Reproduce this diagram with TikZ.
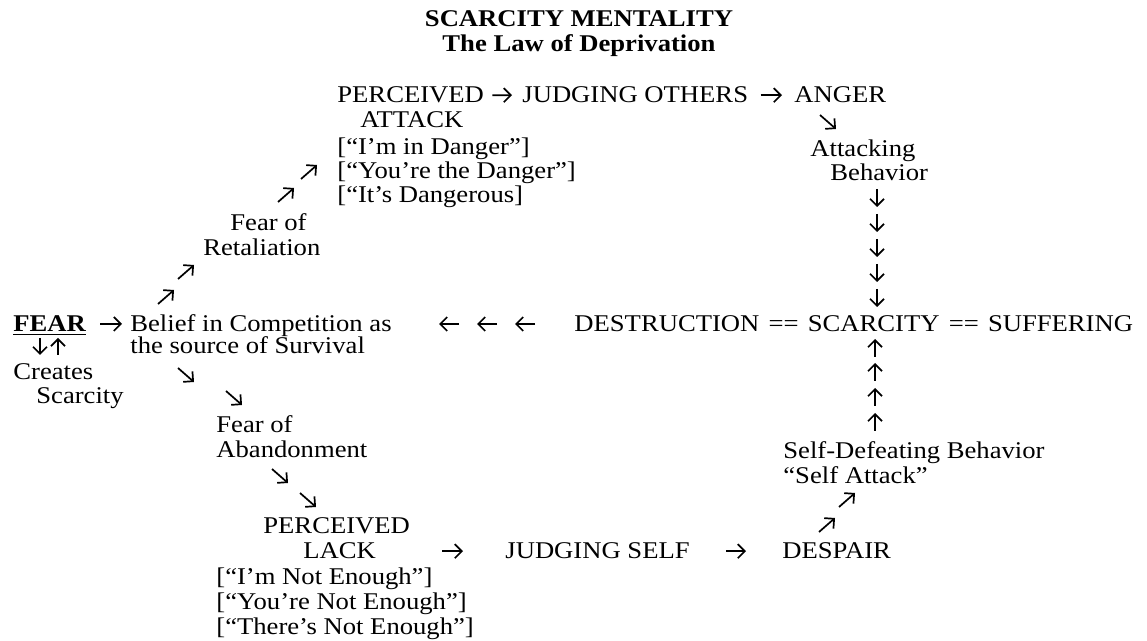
\documentclass[tikz,border=0pt]{standalone}
\usepackage{fontspec}
\setmainfont{Liberation Serif}[FakeStretch=1.11]
\usetikzlibrary{arrows.meta}

\tikzset{
    txt/.style={anchor=base west, inner sep=0pt, font=\fontsize{12}{14}\selectfont},
    arr/.style={-{Straight Barb[length=3.5pt,width=7pt]}, line width=0.85pt},
}

\begin{document}
\begin{tikzpicture}[x=0.5pt,y=-0.5pt]
    \useasboundingbox (0,0) rectangle (1147,641);

    % title
    \node [txt, anchor=base, font=\fontsize{12}{14}\selectfont\bfseries] (title) at (579,27) {SCARCITY MENTALITY};
    \node [txt, anchor=base, font=\fontsize{12}{14}\selectfont\bfseries] (subtitle) at (579,52) {The Law of Deprivation};

    % upper branch
    \node [txt] (percatt) at (337,103) {PERCEIVED};
    \node [txt] (attack)  at (360,128) {ATTACK};
    \node [txt] (danger1) at (337,155) {[“I’m in Danger”]};
    \node [txt] (danger2) at (337,179) {[“You’re the Danger”]};
    \node [txt] (danger3) at (337,203) {[“It’s Dangerous]};
    \node [txt] (judoth)  at (522,103) {JUDGING OTHERS};
    \node [txt] (anger)   at (794,103) {ANGER};
    \node [txt] (attbeh1) at (810,157) {Attacking};
    \node [txt] (attbeh2) at (830,181) {Behavior};
    \node [txt] (retal1)  at (230,231) {Fear of};
    \node [txt] (retal2)  at (203,256) {Retaliation};

    \draw [arr, shorten <=4pt, shorten >=5pt] (percatt.east) -- (judoth.west);
    \draw [arr, shorten <=6pt, shorten >=6pt] (judoth.east) -- (anger.west);

    % middle row
    \node [txt, font=\fontsize{12}{14}\selectfont\bfseries] (fear) at (13,332) {\underline{FEAR}};
    \node [txt] (belief1) at (130,332) {Belief in Competition as};
    \node [txt] (belief2) at (130,354) {the source of Survival};
    \node [txt] (creates) at (13,380) {Creates};
    \node [txt] (scarce)  at (36,404) {Scarcity};
    \node [txt] (dss)     at (574,332) {\spaceskip=4.6pt DESTRUCTION == SCARCITY == SUFFERING};

    \draw [arr] (100,324) -- (122,324);
    \foreach \x in {449,487,525}
        \draw [arr] ({\x+10},324) -- ({\x-10},324);
    \draw [arr] (40,338) -- (40,355);
    \draw [arr] (58,355) -- (58,338);

    % lower branch
    \node [txt] (aband1)  at (216,433) {Fear of};
    \node [txt] (aband2)  at (216,458) {Abandonment};
    \node [txt] (perclack) at (263,534) {PERCEIVED};
    \node [txt] (lack)    at (303,559) {LACK};
    \node [txt] (enough1) at (216,585) {[“I’m Not Enough”]};
    \node [txt] (enough2) at (216,610) {[“You’re Not Enough”]};
    \node [txt] (enough3) at (216,635) {[“There’s Not Enough”]};
    \node [txt] (judself) at (505,559) {JUDGING SELF};
    \node [txt] (despair) at (782,559) {DESPAIR};
    \node [txt] (selfdef1) at (783,459) {Self-Defeating Behavior};
    \node [txt] (selfdef2) at (783,484) {“Self Attack”};

    \draw [arr, shorten <=33pt, shorten >=21pt] (lack.east) -- (judself.west);
    \draw [arr, shorten <=18pt, shorten >=18pt] (judself.east) -- (despair.west);

    % small arrows
    \foreach \x/\y in {309/172,286/195,186/272,166/297,847/500,827/525}
        \draw [arr] ({\x-8},{\y+7}) -- ({\x+8},{\y-7});
    \foreach \x/\y in {828/122,186/375,234/398,280/476,308/500}
        \draw [arr] ({\x-8},{\y-7}) -- ({\x+8},{\y+7});
    \foreach \y in {198,223,248,273,298}
        \draw [arr] (877,{\y-9}) -- (877,{\y+9});
    \foreach \y in {348,372,397,422}
        \draw [arr] (875,{\y+9}) -- (875,{\y-9});
\end{tikzpicture}
\end{document}
